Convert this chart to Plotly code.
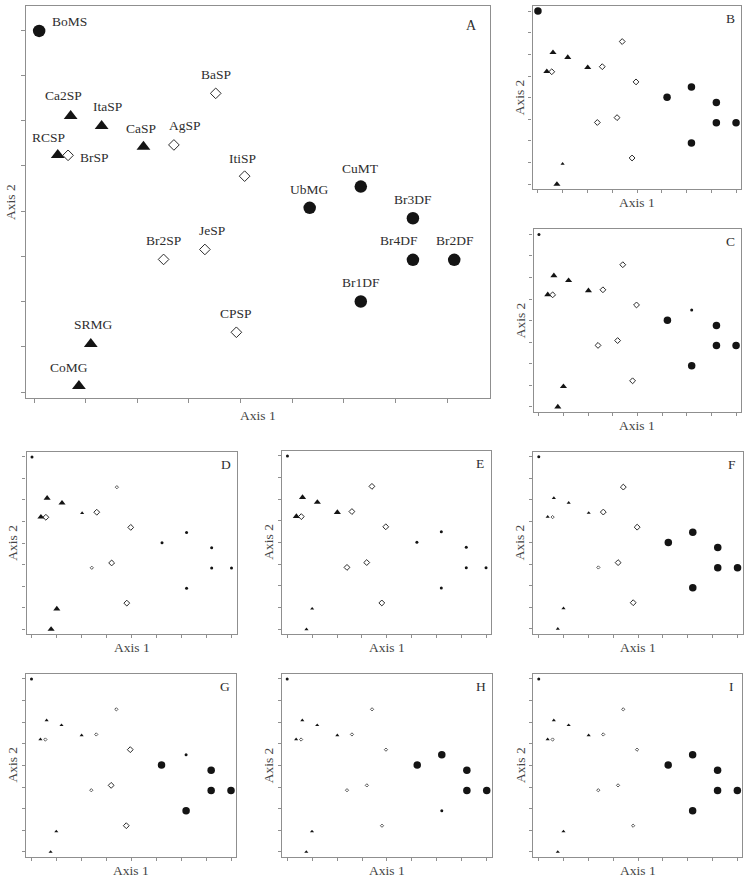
import numpy as np
import plotly.graph_objects as go

# ---------------- data ----------------
sites = ["BoMS", "UbMG", "CuMT", "Br3DF", "Br4DF", "Br2DF", "Br1DF",
         "Ca2SP", "ItaSP", "CaSP", "RCSP", "SRMG", "CoMG",
         "BrSP", "AgSP", "BaSP", "ItiSP", "JeSP", "Br2SP", "CPSP"]
group = ["I"] * 7 + ["II"] * 6 + ["III"] * 7
axis1 = [0.10, 5.34, 6.33, 7.34, 7.34, 8.14, 6.33,
         0.71, 1.31, 2.12, 0.46, 1.10, 0.87,
         0.66, 2.71, 3.52, 4.08, 3.31, 2.51, 3.92]
axis2 = [7.98, 4.07, 4.54, 3.84, 2.92, 2.92, 2.00,
         6.10, 5.88, 5.42, 5.24, 1.06, 0.13,
         5.23, 5.46, 6.60, 4.77, 3.15, 2.93, 1.32]

# abundance class per site in each small panel (L = large, S = small)
size_B = ["L"] * 7 + ["L", "L", "L", "L", "S", "L"] + ["L"] * 7
size_C = ["S", "L", "S", "L", "L", "L", "L"] + ["L"] * 6 + ["L"] * 7
size_D = ["S"] * 7 + ["L", "L", "S", "L", "L", "L"] + ["L", "L", "S", "L", "L", "S", "L"]
size_E = ["S"] * 7 + ["L", "L", "L", "L", "S", "S"] + ["L"] * 7
size_F = ["S", "L", "L", "L", "L", "L", "L"] + ["S"] * 6 + ["S", "L", "L", "L", "L", "S", "L"]
size_G = ["S", "L", "S", "L", "L", "L", "L"] + ["S"] * 6 + ["S", "S", "S", "L", "L", "S", "L"]
size_H = ["S", "L", "L", "L", "L", "L", "S"] + ["S"] * 6 + ["S"] * 7
size_I = ["S", "L", "L", "L", "L", "L", "L"] + ["S"] * 6 + ["S"] * 7
panel_sizes = {"B": size_B, "C": size_C, "D": size_D, "E": size_E,
               "F": size_F, "G": size_G, "H": size_H, "I": size_I}
panels = ["A", "B", "C", "D", "E", "F", "G", "H", "I"]

# ---------------- styles / layout ----------------
W, H = 744, 887
FONT = "Liberation Serif"
FRAME = "#8f8f8f"
INK = "#141414"
TXT = "#2e2e2e"

# frame boxes in pixels: left, right, top, bottom
frames = {
    "A": (26, 490, 6, 398),
    "B": (532.5, 741, 5.7, 189),
    "C": (533.5, 741, 229, 411.7),
    "D": (26.5, 236.5, 451.5, 634),
    "E": (282, 491, 450.5, 634),
    "F": (533.3, 742.5, 451.5, 633.5),
    "G": (26, 236, 673.5, 856.7),
    "H": (281.7, 491.7, 673.5, 856.7),
    "I": (533.3, 742.3, 673.5, 856.7),
}

symbol_of = {"I": "circle", "II": "triangle-up", "III": "diamond-open"}
size_A = {"I": 12.5, "II": 12, "III": 8.2}
size_small = {("I", "L"): 7.5, ("I", "S"): 3.0,
              ("II", "L"): 6.2, ("II", "S"): 3.6,
              ("III", "L"): 4.5, ("III", "S"): 2.5}

label_offset = {  # label centre offset from its point, in px (dx right, dy down)
    "BoMS": (30, -9), "BaSP": (0, -18.7), "Ca2SP": (-7.3, -20), "ItaSP": (6, -19),
    "CaSP": (-2.3, -18.7), "AgSP": (11.3, -19), "RCSP": (-9.3, -17), "BrSP": (26, 2.3),
    "ItiSP": (-1.7, -18), "CuMT": (0, -18), "UbMG": (0, -18.3), "Br3DF": (0, -19),
    "Br4DF": (-14.3, -19), "Br2DF": (1, -19), "JeSP": (7.3, -19), "Br2SP": (0, -18.7),
    "Br1DF": (0, -18.7), "CPSP": (-0.7, -18.7), "SRMG": (2.7, -19.3), "CoMG": (-9.7, -19),
}

fig = go.Figure()
layout = dict(width=W, height=H, margin=dict(l=0, r=0, t=0, b=0),
              paper_bgcolor="white", plot_bgcolor="white", showlegend=False)
annotations = []

x1 = np.array(axis1)
y2 = np.array(axis2)


def paper_text(px, py, text, size, color, angle=0):
    return dict(x=px / W, y=1 - py / H, xref="paper", yref="paper", text=text,
                showarrow=False, xanchor="center", yanchor="middle", textangle=angle,
                font=dict(family=FONT, size=size, color=color))


for k, p in enumerate(panels):
    n = "" if k == 0 else str(k + 1)
    xa, ya = "x" + n, "y" + n
    L, R, T, B = frames[p]
    if p == "A":
        xt0, xt8, yt0, yt8 = 34, 447, 392, 30
        xticks = np.arange(9)
        yticks = np.arange(9)
        xs = (xt8 - xt0) / 8
        ys = (yt0 - yt8) / 8
        xr = [(L - xt0) / xs, (R - xt0) / xs]
        yr = [(yt0 - B) / ys, (yt0 - T) / ys]
        ticklen = 4
    else:
        xmin, xmax = x1.min(), x1.max()
        ymin, ymax = y2.min(), y2.max()
        xticks = np.linspace(xmin, xmax, 9)
        yticks = np.linspace(ymin, ymax, 9)
        dx = (xmax - xmin) / 8
        dy = (ymax - ymin) / 8
        xr = [xmin - 0.22 * dx, xmin + 8.2 * dx]
        yr = [ymin - 0.22 * dy, ymin + 8.25 * dy]
        ticklen = 3

    common = dict(showline=True, mirror=True, linecolor=FRAME, linewidth=1.3,
                  ticks="outside", tickcolor=FRAME, tickwidth=1, ticklen=ticklen,
                  showticklabels=False, showgrid=False, zeroline=False, fixedrange=True)
    layout["xaxis" + n] = dict(common, domain=[L / W, R / W], range=xr,
                               tickvals=list(xticks), anchor=ya)
    layout["yaxis" + n] = dict(common, domain=[1 - B / H, 1 - T / H], range=yr,
                               tickvals=list(yticks), anchor=xa)

    for g in ["I", "II", "III"]:
        idx = [i for i in range(len(sites)) if group[i] == g]
        if p == "A":
            sizes = [size_A[g]] * len(idx)
            cols = [INK if g != "III" else "#2a2a2a"] * len(idx)
        else:
            cls = panel_sizes[p]
            sizes = [size_small[(g, cls[i])] for i in idx]
            cols = [INK if g != "III" else ("#2a2a2a" if cls[i] == "L" else "#5a5a5a") for i in idx]
        fig.add_trace(go.Scatter(
            x=[axis1[i] for i in idx], y=[axis2[i] for i in idx],
            mode="markers", xaxis=xa, yaxis=ya, hoverinfo="text",
            text=[sites[i] for i in idx],
            marker=dict(symbol=symbol_of[g], size=sizes, color=cols, opacity=1,
                        line=dict(width=1 if g == "III" else 0,
                                  color=cols if g == "III" else INK)),
        ))

    # panel letter
    if p == "A":
        annotations.append(paper_text(R - 19, T + 19, p, 14, TXT))
    else:
        annotations.append(paper_text(R - 11, T + 12.5, p, 13.5, TXT))
    # axis titles
    annotations.append(paper_text((L + R) / 2, B + (17 if p == "A" else 13.5),
                                  "Axis 1", 13.5, "#444444"))
    annotations.append(paper_text(L - (16 if p == "A" else 13.5), (T + B) / 2,
                                  "Axis 2", 13.5, "#444444", angle=-90))

# site labels on panel A
for i, s in enumerate(sites):
    ox, oy = label_offset[s]
    annotations.append(dict(x=axis1[i], y=axis2[i], xref="x", yref="y", text=s,
                            showarrow=False, xshift=ox, yshift=-oy,
                            xanchor="center", yanchor="middle",
                            font=dict(family=FONT, size=13.5, color=TXT)))

layout["annotations"] = annotations
fig.update_layout(**layout)
fig.write_html("out.html")
